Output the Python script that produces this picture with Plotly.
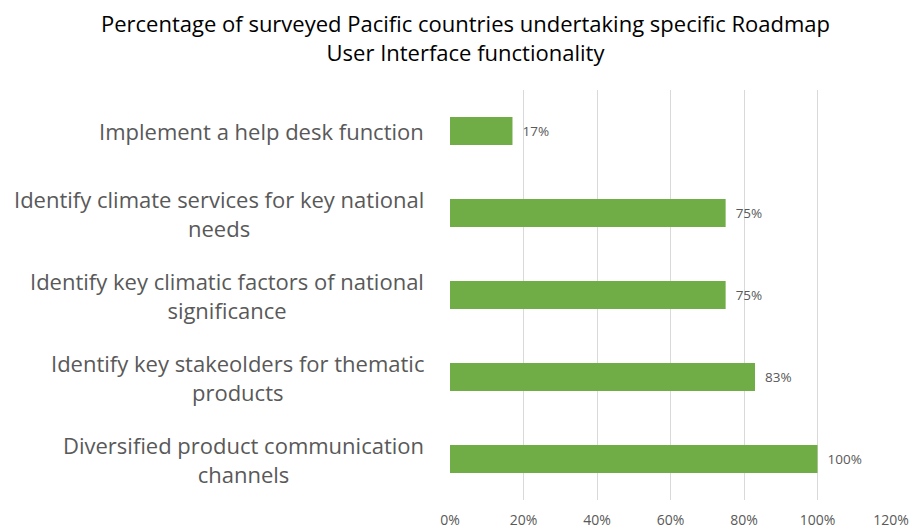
import plotly.graph_objects as go

categories = [
    "Implement a help desk function",
    "Identify climate services for key national<br>needs",
    "Identify key climatic factors of national<br>significance",
    "Identify key stakeolders for thematic<br>products",
    "Diversified product communication<br>channels",
]
values = [0.17, 0.75, 0.75, 0.83, 1.00]
tick_vals = [0, 0.2, 0.4, 0.6, 0.8, 1.0, 1.2]
tick_text = ["0%", "20%", "40%", "60%", "80%", "100%", "120%"]
title_text = ("Percentage of surveyed Pacific countries undertaking specific Roadmap<br>"
              "User Interface functionality")

FONT = "Open Sans"
GRAY = "#595959"

W, H = 912, 529
ML, MR, MT, MB = 450, 21, 90, 29
PW = W - ML - MR
PH = H - MT - MB

fig = go.Figure()
fig.add_trace(go.Bar(
    x=values,
    y=categories,
    orientation="h",
    marker=dict(color="#70AD47", line=dict(width=0)),
    text=[f"  {round(v*100)}%" for v in values],
    textposition="outside",
    textfont=dict(family=FONT, size=13.5, color=GRAY),
    cliponaxis=False,
    width=0.34,
    hoverinfo="skip",
))

for c in categories:
    fig.add_annotation(
        x=0, xref="paper", y=c, yref="y",
        text=c, showarrow=False, xanchor="right", yanchor="middle",
        align="center", xshift=-24,
        font=dict(family=FONT, size=22, color=GRAY),
    )

fig.add_annotation(
    x=(465 - ML) / PW, xref="paper", y=1 + (MT - 37.5) / PH, yref="paper",
    text=title_text, showarrow=False, xanchor="center", yanchor="middle",
    align="center", font=dict(family=FONT, size=22, color="#000000"),
)

fig.update_layout(
    width=W, height=H,
    margin=dict(l=ML, r=MR, t=MT, b=MB, autoexpand=False),
    paper_bgcolor="white", plot_bgcolor="white",
    showlegend=False,
    xaxis=dict(range=[0, 1.2], tickvals=tick_vals, ticktext=tick_text,
               showgrid=True, gridcolor="#D9D9D9", gridwidth=1,
               zeroline=False, showline=False, ticks="", automargin=False,
               tickfont=dict(family=FONT, size=14, color=GRAY),
               ticklabelstandoff=10, fixedrange=True),
    yaxis=dict(autorange="reversed", showticklabels=False, showgrid=False,
               zeroline=False, showline=False, ticks="", fixedrange=True,
               automargin=False),
    bargap=0.66,
)

fig.write_html("out.html",
               config={"displayModeBar": False, "staticPlot": True},
               post_script="document.body.style.margin='0';document.body.style.overflow='hidden';")
